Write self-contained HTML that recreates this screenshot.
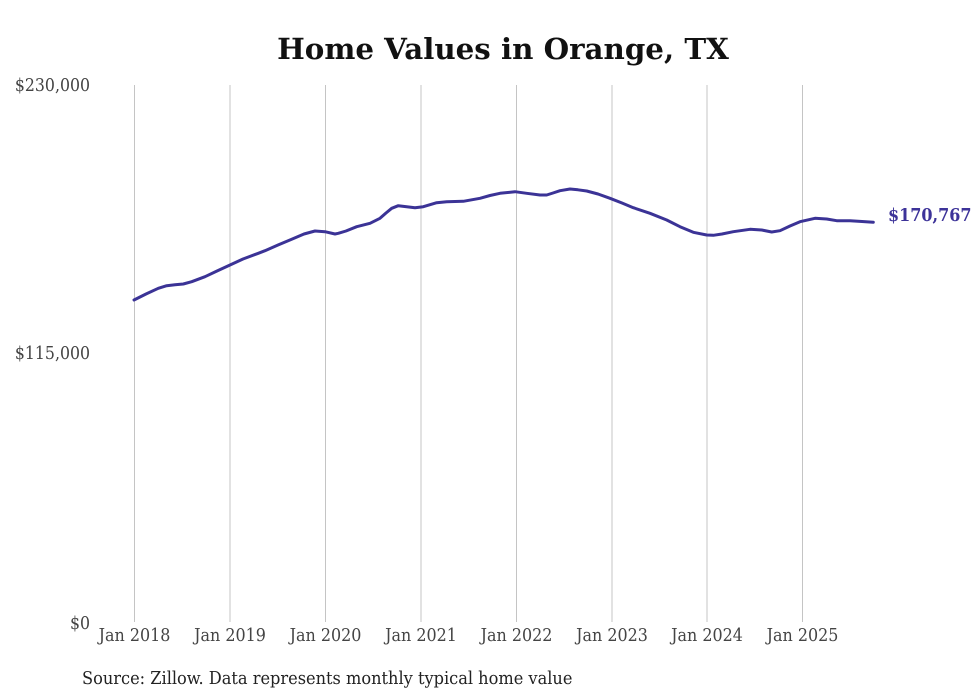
<!DOCTYPE html>
<html>
<head>
<meta charset="utf-8">
<style>
  html, body { margin: 0; padding: 0; background: #fff; }
  svg { display: block; }
  .t { font-family: "DejaVu Serif Condensed", "DejaVu Serif", "Liberation Serif", serif; font-stretch: condensed; }
</style>
</head>
<body>
<svg width="980" height="699" viewBox="0 0 980 699" xmlns="http://www.w3.org/2000/svg">
  <rect width="980" height="699" fill="#ffffff"/>
  <text x="503" y="59" text-anchor="middle" font-family="'DejaVu Serif', 'Liberation Serif', serif" font-weight="bold" font-size="29.3" fill="#111">Home Values in Orange, TX</text>

  <g stroke="#c4c4c4" stroke-width="1">
    <line x1="134.5" y1="85" x2="134.5" y2="622"/>
    <line x1="230" y1="85" x2="230" y2="622"/>
    <line x1="325.5" y1="85" x2="325.5" y2="622"/>
    <line x1="421" y1="85" x2="421" y2="622"/>
    <line x1="516.5" y1="85" x2="516.5" y2="622"/>
    <line x1="612" y1="85" x2="612" y2="622"/>
    <line x1="707" y1="85" x2="707" y2="622"/>
    <line x1="802.5" y1="85" x2="802.5" y2="622"/>
  </g>

  <g class="t" font-size="17.5" fill="#444" text-anchor="end">
    <text x="90" y="91">$230,000</text>
    <text x="90" y="359">$115,000</text>
    <text x="90" y="629">$0</text>
  </g>

  <g class="t" font-size="17.7" fill="#444" text-anchor="middle">
    <text x="134.5" y="641">Jan 2018</text>
    <text x="230" y="641">Jan 2019</text>
    <text x="325.5" y="641">Jan 2020</text>
    <text x="421" y="641">Jan 2021</text>
    <text x="516.5" y="641">Jan 2022</text>
    <text x="612" y="641">Jan 2023</text>
    <text x="707" y="641">Jan 2024</text>
    <text x="802.5" y="641">Jan 2025</text>
  </g>

  <polyline fill="none" stroke="#3b3396" stroke-width="3" stroke-linejoin="round" stroke-linecap="round"
    points="134,300 146,294 158.3,288.3 166.7,285.7 175,284.8 183.3,284 191.7,281.7 205,276.7 217,271 230,265 243,259 258.3,253.3 265,250.7 278,245 291.7,239.3 304,234 315,231 325,231.7 335,234 338.3,233.3 346,231 356.7,226.7 370,223.3 380,218.3 386,213 391.7,208.3 398.3,205.7 406.7,206.7 415,207.7 423.3,206.7 436.7,202.7 446.7,201.7 463.3,201.3 480,198.3 490,195.5 500,193.3 515,191.7 526.7,193.3 540,195 546.7,195 553,193 560,190.7 570,189 578,189.8 586.7,191 598,194 610,198.3 622,203 633.3,207.7 650,213.3 666.7,220 680,226.7 693.3,232.3 706.7,235 713.3,235.3 722,234 733.3,231.7 750,229.3 761.7,230 771.7,232 780,230.7 790,226 800,221.7 815,218.3 826.7,219 836.7,220.7 850,220.7 862,221.5 873.3,222.3"/>

  <text class="t" x="888" y="221" font-size="17.8" font-weight="bold" fill="#3d3399">$170,767</text>

  <text class="t" x="82" y="684" font-size="18" fill="#222">Source: Zillow. Data represents monthly typical home value</text>
</svg>
</body>
</html>
